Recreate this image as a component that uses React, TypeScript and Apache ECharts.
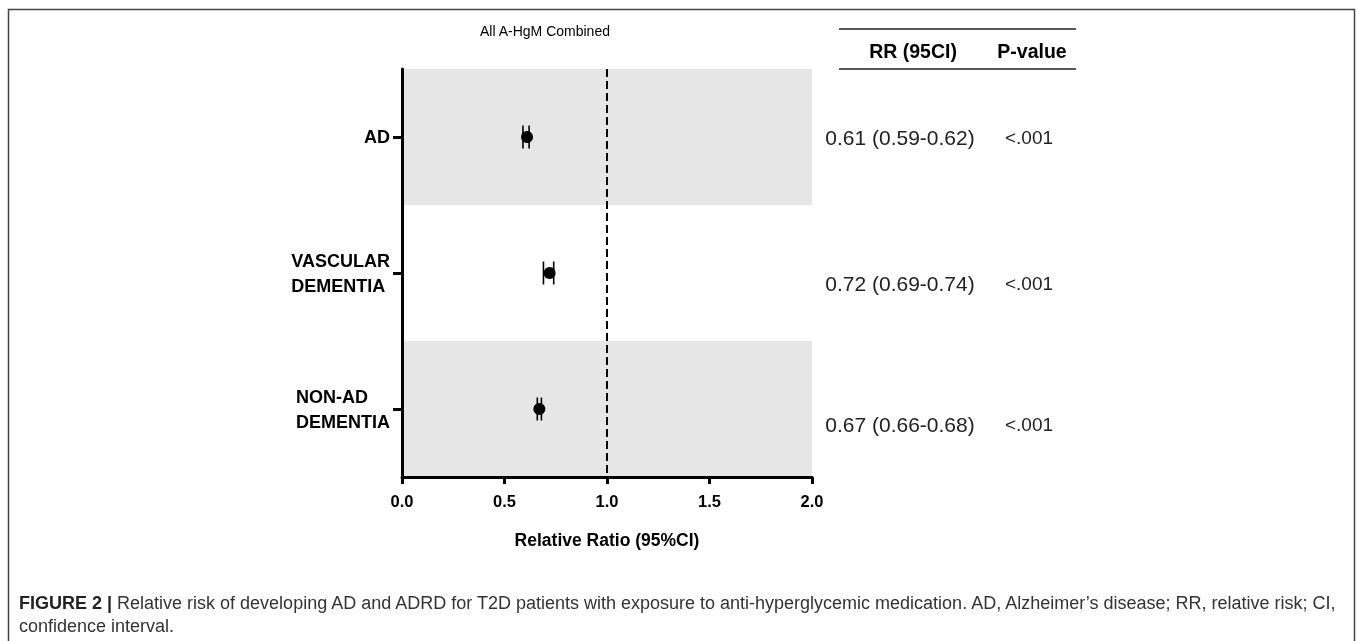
import React, { useEffect, useRef } from "react";
import * as echarts from "echarts";

const categories = ["AD", "VASCULAR\nDEMENTIA", "NON-AD\nDEMENTIA"];
const rr = [0.61, 0.72, 0.67];
const lower = [0.59, 0.69, 0.66];
const upper = [0.62, 0.74, 0.68];
const rrLabels = ["0.61 (0.59-0.62)", "0.72 (0.69-0.74)", "0.67 (0.66-0.68)"];
const pValues = ["<.001", "<.001", "<.001"];
const referenceValue = 1.0;
const xMin = 0;
const xMax = 2;
const xInterval = 0.5;

const FONT = "'Liberation Sans', Arial, Helvetica, sans-serif";

export default function App() {
  const ref = useRef<HTMLDivElement>(null);
  useEffect(() => {
    if (!ref.current) return;
    const chart = echarts.init(ref.current, undefined, { renderer: "svg" });
    const rowY = [137, 283, 424];
    const tableTexts: any[] = [];
    rrLabels.forEach((t, i) => {
      tableTexts.push({
        type: "text",
        x: 900,
        y: rowY[i],
        style: { text: t, font: `21px ${FONT}`, fill: "#222", align: "center", verticalAlign: "middle" },
      });
      tableTexts.push({
        type: "text",
        x: 1029,
        y: rowY[i],
        style: { text: pValues[i], font: `19px ${FONT}`, fill: "#222", align: "center", verticalAlign: "middle" },
      });
    });
    chart.setOption({
      animation: false,
      grid: { left: 402, top: 69, right: 546, bottom: 164, containLabel: false },
      xAxis: {
        type: "value",
        min: xMin,
        max: xMax,
        interval: xInterval,
        name: "Relative Ratio (95%CI)",
        nameLocation: "middle",
        nameGap: 54,
        nameTextStyle: { fontFamily: FONT, fontWeight: "bold", fontSize: 17.5, color: "#000" },
        axisLine: { show: true, onZero: false, lineStyle: { color: "#000", width: 3 } },
        axisTick: { show: true, length: 7, lineStyle: { color: "#000", width: 3 } },
        axisLabel: {
          margin: 15,
          fontFamily: FONT,
          fontWeight: "bold",
          fontSize: 16.5,
          color: "#000",
          formatter: (v: number) => v.toFixed(1),
        },
        splitLine: { show: false },
      },
      yAxis: {
        type: "category",
        data: categories,
        inverse: true,
        axisLine: { show: true, lineStyle: { color: "#000", width: 3 } },
        axisTick: { show: true, alignWithLabel: true, length: 9, lineStyle: { color: "#000", width: 3 } },
        axisLabel: {
          margin: 12,
          color: "#000",
          align: "right",
          formatter: (v: string) =>
            v
              .split("\n")
              .map((s) => `{c|${s}}`)
              .join("\n"),
          rich: {
            c: {
              fontFamily: FONT,
              fontWeight: "bold",
              fontSize: 18,
              lineHeight: 25,
              color: "#000",
              align: "left",
            },
          },
        },
        splitArea: { show: true, areaStyle: { color: ["#e6e6e6", "#ffffff"] } },
        splitLine: { show: false },
      },
      series: [
        {
          type: "custom",
          renderItem: (params: any, api: any) => {
            const idx = api.value(0);
            const lo = api.coord([api.value(1), idx]);
            const hi = api.coord([api.value(2), idx]);
            const h = 11.5;
            const st = { stroke: "#000", lineWidth: 1.6 };
            return {
              type: "group",
              children: [
                { type: "line", shape: { x1: lo[0], y1: lo[1], x2: hi[0], y2: hi[1] }, style: st },
                { type: "line", shape: { x1: lo[0], y1: lo[1] - h, x2: lo[0], y2: lo[1] + h }, style: st },
                { type: "line", shape: { x1: hi[0], y1: hi[1] - h, x2: hi[0], y2: hi[1] + h }, style: st },
              ],
            };
          },
          encode: { x: [1, 2], y: 0 },
          data: categories.map((_, i) => [i, lower[i], upper[i]]),
          z: 3,
        },
        {
          type: "scatter",
          symbol: "circle",
          symbolSize: 12,
          itemStyle: { color: "#000", opacity: 1 },
          data: rr.map((v, i) => [v, i]),
          z: 4,
          markLine: {
            silent: true,
            symbol: "none",
            label: { show: false },
            lineStyle: { color: "#000", width: 2, type: [8, 4] },
            data: [{ xAxis: referenceValue }],
          },
        },
      ],
      graphic: [
        {
          type: "rect",
          shape: { x: 8.5, y: 9.5, width: 1346, height: 700 },
          style: { fill: "none", stroke: "#444", lineWidth: 1.5 },
          silent: true,
        },
        {
          type: "text",
          x: 545,
          y: 31,
          style: { text: "All A-HgM Combined", font: `14px ${FONT}`, fill: "#000", align: "center", verticalAlign: "middle" },
        },
        { type: "line", shape: { x1: 839, y1: 29, x2: 1076, y2: 29 }, style: { stroke: "#222", lineWidth: 1.5 } },
        { type: "line", shape: { x1: 839, y1: 69, x2: 1076, y2: 69 }, style: { stroke: "#222", lineWidth: 1.5 } },
        {
          type: "text",
          x: 913,
          y: 51,
          style: { text: "RR (95CI)", font: `bold 19.5px ${FONT}`, fill: "#000", align: "center", verticalAlign: "middle" },
        },
        {
          type: "text",
          x: 1032,
          y: 51,
          style: { text: "P-value", font: `bold 19.5px ${FONT}`, fill: "#000", align: "center", verticalAlign: "middle" },
        },
        ...tableTexts,
        {
          type: "text",
          x: 19,
          y: 603,
          style: {
            text: "{b|FIGURE 2 |} Relative risk of developing AD and ADRD for T2D patients with exposure to anti-hyperglycemic medication. AD, Alzheimer\u2019s disease; RR, relative risk; CI,",
            font: `18px ${FONT}`,
            fill: "#333",
            verticalAlign: "middle",
            rich: { b: { fontWeight: "bold", fontSize: 18, fontFamily: FONT, fill: "#222" } },
          },
        },
        {
          type: "text",
          x: 19,
          y: 626,
          style: { text: "confidence interval.", font: `18px ${FONT}`, fill: "#333", verticalAlign: "middle" },
        },
      ],
    });
    return () => chart.dispose();
  }, []);
  return <div ref={ref} style={{ position: "fixed", left: 0, top: 0, width: 1358, height: 641 }} />;
}
